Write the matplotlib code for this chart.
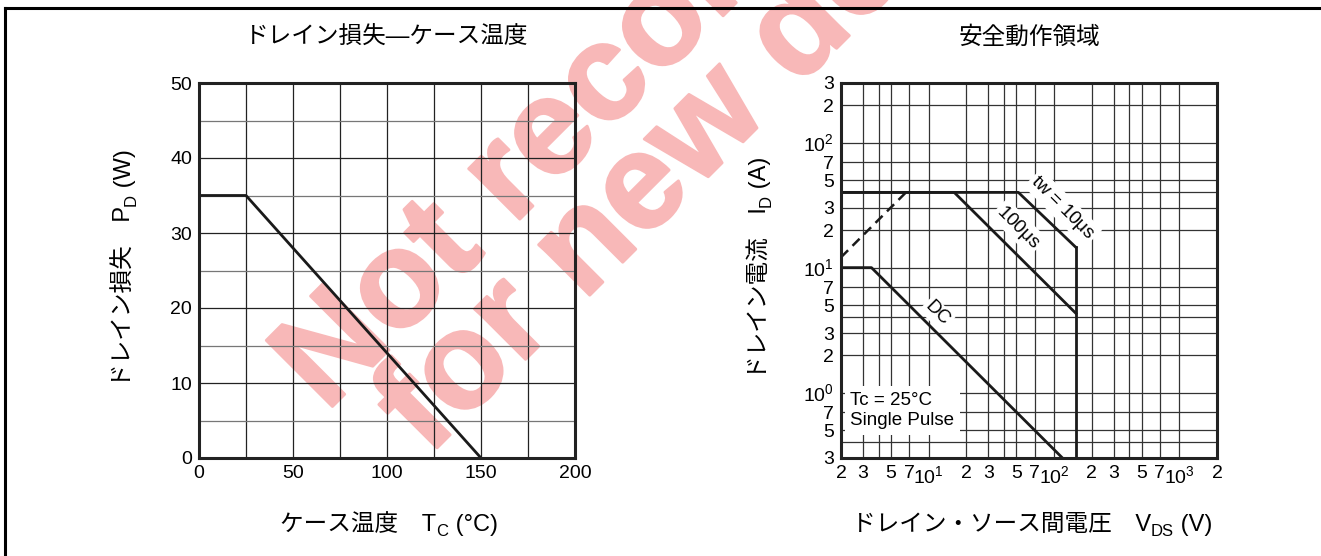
import matplotlib
matplotlib.use('Agg')
import matplotlib.pyplot as plt
import matplotlib.patheffects as pe
from matplotlib.lines import Line2D
from matplotlib.transforms import IdentityTransform

plt.rcParams['font.family'] = ['Liberation Sans', 'Noto Sans CJK JP']
plt.rcParams['mathtext.fontset'] = 'custom'
plt.rcParams['mathtext.rm'] = 'Liberation Sans'
plt.rcParams['mathtext.it'] = 'Liberation Sans'

# ドレイン損失 - ケース温度
tc = [0, 25, 150]
pd = [35, 35, 0]

# 安全動作領域 (V, A)
dc_v = [2, 3.5, 117]
dc_i = [10, 10, 0.3]
p100_v = [2, 16, 150]
p100_i = [40, 40, 4.3]
p10_v = [2, 52, 150]
p10_i = [40, 40, 14.5]
vdss_v = [150, 150]
vdss_i = [0.3, 14.5]
ron_v = [2, 6.6]
ron_i = [12.1, 40]

soa_xticks = [2, 3, 5, 7, 10, 20, 30, 50, 70, 100, 200, 300, 500, 700, 1000, 2000]
soa_xlabels = ['2', '3', '5', '7', r'$\mathrm{10^1}$', '2', '3', '5', '7', r'$\mathrm{10^2}$',
               '2', '3', '5', '7', r'$\mathrm{10^3}$', '2']
soa_yticks = [0.3, 0.5, 0.7, 1, 2, 3, 5, 7, 10, 20, 30, 50, 70, 100, 200, 300]
soa_ylabels = ['3', '5', '7', r'$\mathrm{10^0}$', '2', '3', '5', '7', r'$\mathrm{10^1}$',
               '2', '3', '5', '7', r'$\mathrm{10^2}$', '2', '3']
soa_xgrid = [3, 4, 5, 7, 10, 20, 30, 40, 50, 70, 100, 200, 300, 400, 500, 700, 1000]
soa_ygrid = [0.4, 0.5, 0.7, 1, 2, 3, 4, 5, 7, 10, 20, 30, 40, 50, 70, 100, 200]

W, H = 1321, 556
fig = plt.figure(figsize=(W / 100, H / 100), dpi=100)
rend = fig.canvas.get_renderer()


def box(x0, y0, x1, y1):
    return [x0 / W, 1 - y1 / H, (x1 - x0) / W, (y1 - y0) / H]


def rich(xc, ybase, parts, rot=0):
    # parts: (text, size, shift px); xc/ybase in pixels from top-left
    widths = []
    for s, f, d in parts:
        t = fig.text(0, 0, s, fontsize=f)
        widths.append(t.get_window_extent(rend).width)
        t.remove()
    pos = -sum(widths) / 2
    for (s, f, d), w in zip(parts, widths):
        if rot == 0:
            x, y = xc + pos, H - ybase + d
        else:
            x, y = xc - d, H - ybase + pos
        fig.text(x, y, s, fontsize=f, rotation=rot, rotation_mode='anchor',
                 ha='left', va='baseline', transform=IdentityTransform())
        pos += w


line_c = '#1a1a1a'
tick_fs = 14

# ---- left chart
ax1 = fig.add_axes(box(199, 83, 575, 458))
ax1.set_xlim(0, 200)
ax1.set_ylim(0, 50)
ax1.set_xticks(range(0, 201, 50))
ax1.set_xticks(range(0, 201, 25), minor=True)
ax1.set_yticks(range(0, 51, 10))
ax1.set_yticks(range(5, 50, 10), minor=True)
ax1.grid(which='both', axis='x', color='#222222', lw=0.9)
ax1.grid(which='major', axis='y', color='#222222', lw=0.9)
ax1.grid(which='minor', axis='y', color='#777777', lw=0.9)
ax1.plot(tc, pd, color=line_c, lw=2.0)
ax1.tick_params(which='both', length=0, labelsize=tick_fs, pad=5)

# ---- right chart
ax2 = fig.add_axes(box(841, 83, 1217, 458))
ax2.set_xscale('log')
ax2.set_yscale('log')
ax2.set_xlim(2, 2000)
ax2.set_ylim(0.3, 300)
ax2.set_xticks(soa_xticks)
ax2.set_xticklabels(soa_xlabels)
ax2.set_xticks(soa_xgrid, minor=True)
ax2.set_yticks(soa_yticks)
ax2.set_yticklabels(soa_ylabels)
ax2.set_yticks(soa_ygrid, minor=True)
ax2.xaxis.set_minor_formatter(plt.NullFormatter())
ax2.yaxis.set_minor_formatter(plt.NullFormatter())
ax2.grid(which='both', color='#333333', lw=0.9)
ax2.tick_params(which='both', length=0, labelsize=tick_fs, pad=5)
for v, i in [(dc_v, dc_i), (p100_v, p100_i), (p10_v, p10_i), (vdss_v, vdss_i)]:
    ax2.plot(v, i, color=line_c, lw=2.0, zorder=3)
ax2.plot(ron_v, ron_i, color=line_c, lw=1.8, ls=(0, (4, 2.5)), zorder=3)

bb = dict(facecolor='white', edgecolor='none', pad=1.5)
ax2.text(118, 30, r'tw = 10$\mathrm{\mu}$s', rotation=-45, ha='center', va='center',
         fontsize=13.5, bbox=bb, zorder=2.5)
ax2.text(52, 21, r'100$\mathrm{\mu}$s', rotation=-45, ha='center', va='center',
         fontsize=13.5, bbox=bb, zorder=2.5)
ax2.text(11.7, 4.3, 'DC', rotation=-45, ha='center', va='center', fontsize=13.5,
         bbox=bb, zorder=2.5)
ax2.text(2.38, 0.72, 'Tc = 25°C\nSingle Pulse', ha='left', va='center', fontsize=13.5,
         linespacing=1.3, bbox=dict(facecolor='white', edgecolor='none', pad=4), zorder=2.5)

for ax in (ax1, ax2):
    ax.set_facecolor('none')
    for s in ax.spines.values():
        s.set_linewidth(2.2)
        s.set_color('#222222')
        s.set_zorder(5)

# ---- titles and labels
fs, sub = 17, 12
fig.text(387 / W, 1 - 38 / H, 'ドレイン損失—ケース温度', ha='center', va='center', fontsize=fs)
fig.text(1030 / W, 1 - 38 / H, '安全動作領域', ha='center', va='center', fontsize=fs)
rich(389, 531, [('ケース温度　T', fs, 0), ('C', sub, -5), (' (°C)', fs, 0)])
rich(1032, 531, [('ドレイン・ソース間電圧　V', fs, 0), ('DS', sub, -5), (' (V)', fs, 0)])
rich(131, 268, [('ドレイン損失　P', fs, 0), ('D', sub, -5), (' (W)', fs, 0)], rot=90)
rich(766, 268, [('ドレイン電流　I', fs, 0), ('D', sub, -5), (' (A)', fs, 0)], rot=90)

# ---- frame
fig.add_artist(Line2D([4.5 / W, 1], [1 - 8 / H, 1 - 8 / H], color='black', lw=2.2))
fig.add_artist(Line2D([4.5 / W, 4.5 / W], [0, 1 - 8 / H], color='black', lw=2.2))

# ---- watermark (behind the charts)
wm_c = '#f8b8b8'
wm = dict(rotation=45, rotation_mode='anchor', ha='left', va='baseline', fontsize=98,
          fontweight='bold', color=wm_c, zorder=-5,
          path_effects=[pe.withStroke(linewidth=2, foreground=wm_c)])
fig.text(326 / W, 1 - 413 / H, 'Not recommended', **wm)
fig.text(428 / W, 1 - 457 / H, 'for new design', **wm)

fig.savefig('out.png', dpi=100)
